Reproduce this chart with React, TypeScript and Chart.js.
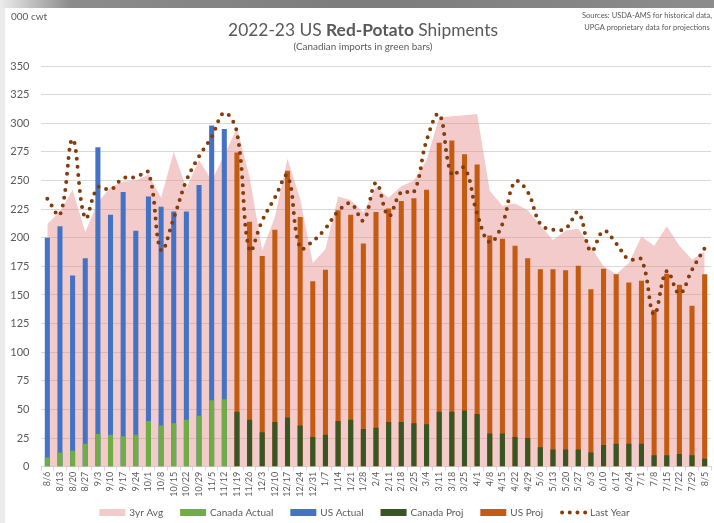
import React, { useEffect, useRef } from "react";
import { Chart, registerables } from "chart.js";

Chart.register(...registerables);

// ---------- data ----------
const weeks = [
  "8/6", "8/13", "8/20", "8/27", "9/3", "9/10", "9/17", "9/24", "10/1", "10/8",
  "10/15", "10/22", "10/29", "11/5", "11/12", "11/19", "11/26", "12/3", "12/10", "12/17",
  "12/24", "12/31", "1/7", "1/14", "1/21", "1/28", "2/4", "2/11", "2/18", "2/25",
  "3/4", "3/11", "3/18", "3/25", "4/1", "4/8", "4/15", "4/22", "4/29", "5/6",
  "5/13", "5/20", "5/27", "6/3", "6/10", "6/17", "6/24", "7/1", "7/8", "7/15",
  "7/22", "7/29", "8/5",
];

// 3-year average (pink area), all weeks
const avg3yr = [
  212, 223, 242, 205, 231, 244, 249, 250, 255, 235,
  275, 243, 268, 250, 272, 296, 253, 189, 218, 269,
  234, 178, 190, 236, 233, 222, 244, 235, 245, 250,
  268, 305, 306, 307, 308, 241, 228, 230, 224, 211,
  198, 206, 208, 192, 175, 168, 178, 201, 193, 210,
  193, 181, 188,
];

// last year's shipments (dotted line), all weeks
const lastYear = [
  234, 220, 286, 217, 244, 242, 252, 253, 257, 189,
  217, 250, 271, 288, 309, 292, 189, 215, 235, 254,
  191, 197, 208, 223, 230, 215, 248, 219, 240, 240,
  285, 308, 255, 261, 221, 196, 212, 249, 240, 212,
  207, 208, 222, 188, 206, 195, 181, 181, 133, 171,
  151, 172, 191,
];

// actual weeks 8/6 .. 11/12
const usActual = [200, 210, 167, 182, 279, 220, 240, 206, 236, 227, 223, 223, 246, 298, 295];
const canadaActual = [8, 12.5, 14, 20, 28.5, 28, 26.5, 28, 40, 36, 38, 41, 44.5, 58, 59];

// projected weeks 11/19 .. 8/5
const usProj = [
  274.5, 214, 184, 207, 258.5, 218, 162, 172, 224, 220,
  195, 222.5, 225.5, 232, 234.5, 242, 283, 285, 273, 264,
  202, 199, 193, 182, 172.5, 172.5, 171.5, 175.5, 155, 173,
  168, 161, 162.5, 137, 168.5, 159, 140.5, 168,
];
const canadaProj = [
  48, 41, 30, 39, 43, 36, 26, 28, 40, 41,
  33, 34, 39, 39, 38, 37, 48, 48, 49, 46,
  29, 29, 26, 25, 17, 15, 15, 15, 12.5, 19,
  20, 20, 20, 10, 10, 11, 10, 7,
];

const yMin = 0;
const yMax = 350;
const yStep = 25;

const titleParts: [string, string][] = [
  ["2022-23 US ", "normal"],
  ["Red-Potato", "bold"],
  [" Shipments", "normal"],
];
const subtitle = "(Canadian imports in green bars)";
const unitLabel = "000 cwt";
const sourceLines = ["Sources: USDA-AMS for historical data,", "UPGA proprietary data for projections"];

// ---------- styles ----------
const FONT = "Lato, 'Open Sans', 'DejaVu Sans', sans-serif";
const TEXT = "#595959";
const GRID = "#d9d9d9";

const nActual = usActual.length;
const nProj = usProj.length;
const pad = (n: number) => Array(n).fill(null);

const decorPlugin = {
  id: "decor",
  afterDraw(chart: any) {
    const ctx: CanvasRenderingContext2D = chart.ctx;
    ctx.save();
    ctx.fillStyle = TEXT;
    ctx.textBaseline = "middle";

    // title with mixed weights, fitted to the reference width
    const measure = (s: number) =>
      titleParts.reduce((w, [t, wt]) => {
        ctx.font = `${wt} ${s}px ${FONT}`;
        return w + ctx.measureText(t).width;
      }, 0);
    const size = (19 * 270) / measure(19);
    let x = 358 - measure(size) / 2;
    ctx.textAlign = "left";
    for (const [t, wt] of titleParts) {
      ctx.font = `${wt} ${size}px ${FONT}`;
      ctx.fillText(t, x, 22);
      x += ctx.measureText(t).width;
    }

    // subtitle
    ctx.textAlign = "center";
    ctx.font = `normal 10.5px ${FONT}`;
    const sw = ctx.measureText(subtitle).width;
    const ss = (10.5 * 139) / sw;
    ctx.font = `normal ${ss}px ${FONT}`;
    ctx.fillText(subtitle, 358, 39);

    // unit label
    ctx.textAlign = "left";
    ctx.font = `normal 10px ${FONT}`;
    ctx.fillText(unitLabel, 6, 9);

    // sources
    ctx.textAlign = "center";
    ctx.font = `normal 9px ${FONT}`;
    const w2 = ctx.measureText(sourceLines[1]).width;
    const s2 = (9 * 126) / w2;
    ctx.font = `normal ${s2}px ${FONT}`;
    ctx.fillText(sourceLines[0], 642, 8);
    ctx.fillText(sourceLines[1], 642, 20);

    // legend (dataset order), centred under the chart
    const boxW = 26;
    const boxH = 7;
    const gapBoxText = 4;
    const gapItems = 17;
    const ly = 504.5;
    ctx.font = `normal 10px ${FONT}`;
    const items = chart.data.datasets.map((ds: any) => ({
      ds,
      w: boxW + gapBoxText + ctx.measureText(ds.label).width,
    }));
    const total = items.reduce((s: number, it: any) => s + it.w, 0) + gapItems * (items.length - 1);
    let lx = 359.5 - total / 2;
    ctx.textAlign = "left";
    for (const it of items) {
      const ds = it.ds;
      if (ds.type === "line" && ds.fill === false) {
        ctx.save();
        ctx.strokeStyle = ds.borderColor;
        ctx.lineWidth = 4;
        ctx.lineCap = "round";
        ctx.setLineDash([0, 7.7]);
        ctx.beginPath();
        ctx.moveTo(lx + 2, ly);
        ctx.lineTo(lx + boxW, ly);
        ctx.stroke();
        ctx.restore();
      } else {
        ctx.fillStyle = ds.backgroundColor;
        ctx.fillRect(lx, ly - boxH / 2, boxW, boxH);
      }
      ctx.fillStyle = TEXT;
      ctx.fillText(ds.label, lx + boxW + gapBoxText, ly);
      lx += it.w + gapItems;
    }
    ctx.restore();
  },
};

export default function App() {
  const ref = useRef<HTMLCanvasElement>(null);

  useEffect(() => {
    const canvas = ref.current;
    if (!canvas) return;
    const chart = new Chart(canvas, {
      type: "bar",
      data: {
        labels: weeks,
        datasets: [
          {
            type: "line",
            label: "3yr Avg",
            data: avg3yr,
            backgroundColor: "rgba(230, 140, 140, 0.45)",
            borderWidth: 0,
            pointRadius: 0,
            fill: "origin",
            tension: 0,
            order: 4,
          },
          {
            type: "bar",
            label: "Canada Actual",
            data: [...canadaActual, ...pad(nProj)],
            backgroundColor: "#70AD47",
            grouped: false,
            barPercentage: 0.4,
            categoryPercentage: 1,
            order: 1,
          },
          {
            type: "bar",
            label: "US Actual",
            data: [...usActual, ...pad(nProj)],
            backgroundColor: "#4472C4",
            grouped: false,
            barPercentage: 0.4,
            categoryPercentage: 1,
            order: 2,
          },
          {
            type: "bar",
            label: "Canada Proj",
            data: [...pad(nActual), ...canadaProj],
            backgroundColor: "#375623",
            grouped: false,
            barPercentage: 0.4,
            categoryPercentage: 1,
            order: 1,
          },
          {
            type: "bar",
            label: "US Proj",
            data: [...pad(nActual), ...usProj],
            backgroundColor: "#C55A11",
            grouped: false,
            barPercentage: 0.4,
            categoryPercentage: 1,
            order: 2,
          },
          {
            type: "line",
            label: "Last Year",
            data: lastYear,
            borderColor: "#843C0C",
            borderWidth: 4,
            borderDash: [0, 8],
            borderCapStyle: "round",
            pointRadius: 0,
            fill: false,
            tension: 0.4,
            order: 0,
          },
        ] as any,
      },
      options: {
        responsive: false,
        animation: false,
        events: [],
        devicePixelRatio: 1,
        layout: { padding: { top: 58, right: 12, bottom: 29, left: 0 } },
        scales: {
          x: {
            offset: true,
            grid: {
              display: true,
              drawOnChartArea: false,
              drawTicks: true,
              tickLength: 4,
              color: GRID,
              offset: true,
            },
            border: { display: true, color: GRID },
            ticks: {
              autoSkip: false,
              maxRotation: 90,
              minRotation: 90,
              padding: 1,
              color: TEXT,
              font: { family: FONT, size: 9 },
            },
            afterFit: (scale: any) => {
              scale.height = 32.3;
            },
          },
          y: {
            min: yMin,
            max: yMax,
            ticks: {
              stepSize: yStep,
              padding: 11.5,
              color: TEXT,
              font: { family: FONT, size: 11 },
            },
            grid: { color: GRID, drawTicks: false },
            border: { display: false },
            afterFit: (scale: any) => {
              scale.width = 36;
            },
          },
        },
        plugins: {
          title: { display: false },
          tooltip: { enabled: false },
          legend: { display: false },
        },
      } as any,
      plugins: [decorPlugin],
    });
    return () => chart.destroy();
  }, []);

  return (
    <div
      style={{
        position: "fixed",
        left: 0,
        top: 0,
        width: 714,
        height: 523,
        overflow: "hidden",
        background: "#ffffff",
      }}
    >
      <div
        style={{
          position: "absolute",
          left: 0,
          top: 0,
          width: 714,
          height: 8,
          background: "linear-gradient(to right, #ececec 0px, #8c8c8c 70px, #7c7c7c 50%, #8c8c8c 100%)",
        }}
      />
      <div style={{ position: "absolute", left: 0, top: 8, width: 5, height: 515, background: "#ebebeb" }} />
      <canvas
        ref={ref}
        width={718}
        height={520}
        style={{ position: "absolute", left: 5, top: 8, width: 718, height: 520 }}
      />
    </div>
  );
}
